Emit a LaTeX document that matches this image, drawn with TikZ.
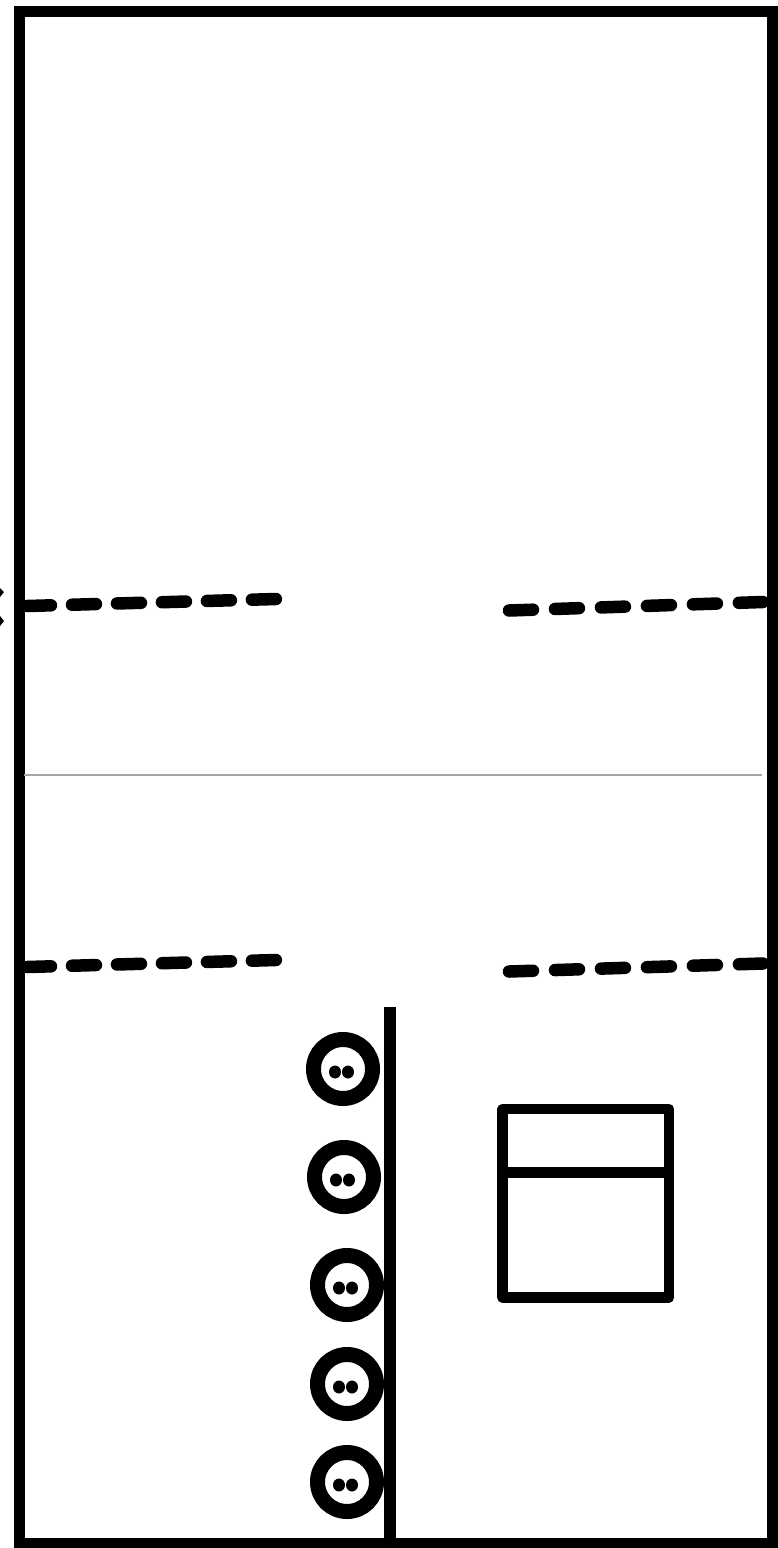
\documentclass[tikz,border=0pt]{standalone}
\usetikzlibrary{shapes.geometric}
\tikzset{
  wall/.style={line width=11pt,black},
  dashleft/.style={line width=12.5pt,black,line cap=round,dash pattern=on 24pt off 21pt},
  dashright/.style={line width=12.5pt,black,line cap=round,dash pattern=on 24pt off 22pt},
  thin rule/.style={line width=1.5pt,black!35},
  seat/.style={circle,draw=black,line width=15pt,fill=white,minimum size=59pt,inner sep=0pt},
  eye/.style={ellipse,fill=black,minimum width=12pt,minimum height=13pt,inner sep=0pt},
  boxline/.style={line width=10.5pt,black,line join=round}
}
\begin{document}
\begin{tikzpicture}[x=1pt,y=-1pt]
\useasboundingbox (0,0) rectangle (778,1548);
\fill[white] (0,0) rectangle (778,1548);
\fill[black] (0,588) -- (4,592) -- (0,597) -- cycle;
\fill[black] (0,616) -- (4,621) -- (0,626) -- cycle;
\draw[wall] (19,11) rectangle (772,1543);
\draw[thin rule] (24,775) -- (762,775);
\draw[dashleft] (27,606) -- (276,599);
\draw[dashright] (509,610.5) -- (763,602);
\draw[dashleft] (27,967) -- (276,960);
\draw[dashright] (509,971.5) -- (763,963.5);
\draw[line width=12pt] (389.5,1007) -- (389.5,1540);
\foreach \n/\x/\y in {a/343/1069,b/344/1177,c/347/1285,d/347/1384,e/347/1482}{
  \node[seat] (\n) at (\x,\y) {};
  \node[eye] (\n l) at (\x-8,\y+3) {};
  \node[eye] (\n r) at (\x+5,\y+3) {};
}
\draw[boxline] (502.5,1109) rectangle (669,1297.5);
\draw[boxline] (502.5,1172.5) -- (669,1172.5);
\end{tikzpicture}
\end{document}
